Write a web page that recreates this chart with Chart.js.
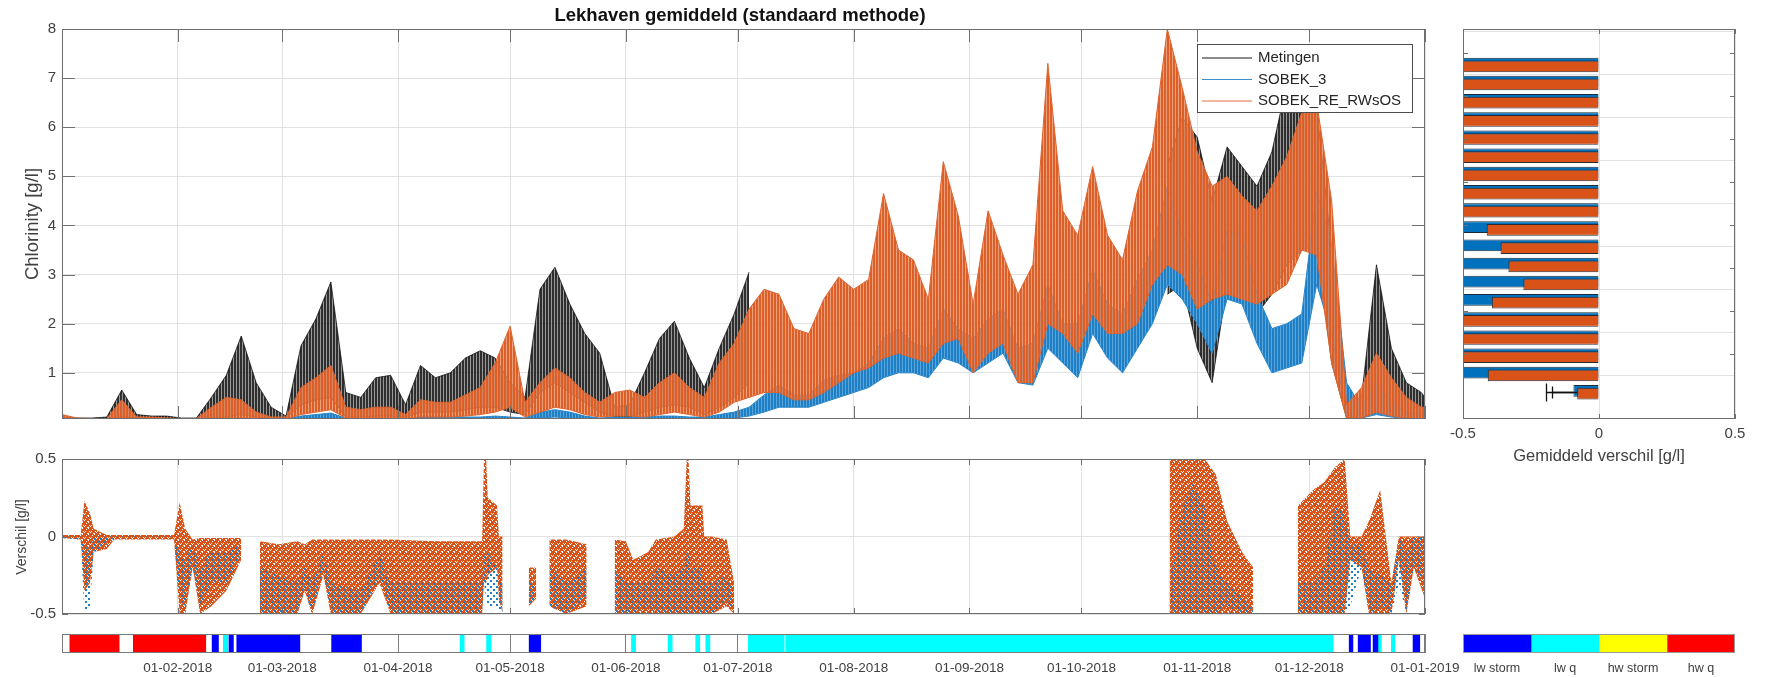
<!DOCTYPE html>
<html lang="nl">
<head>
<meta charset="utf-8">
<title>Lekhaven gemiddeld (standaard methode)</title>
<script src="https://cdn.jsdelivr.net/npm/chart.js@4.4.1/dist/chart.umd.min.js"></script>
<style>
  html, body { margin: 0; background: #fff; }
  #wrap { position: relative; width: 1767px; height: 678px; overflow: hidden; }
  #wrap canvas { position: absolute; left: 0; top: 0; }
</style>
</head>
<body>
<div id="wrap">
  <canvas id="tijdreeksChart" width="1767" height="678"></canvas>
  <canvas id="verschilChart" width="1767" height="678"></canvas>
  <canvas id="strookChart" width="1767" height="678"></canvas>
  <canvas id="gemiddeldChart" width="1767" height="678"></canvas>
  <canvas id="klasseChart" width="1767" height="678"></canvas>
</div>
<script>
// ---- gegevens ----
const maandDagen = [0, 31, 59, 90, 120, 151, 181, 212, 243, 273, 304, 334, 365];
const maandLabels = ['01-01-2018', '01-02-2018', '01-03-2018', '01-04-2018', '01-05-2018', '01-06-2018',
  '01-07-2018', '01-08-2018', '01-09-2018', '01-10-2018', '01-11-2018', '01-12-2018', '01-01-2019'];
const chlorTicks = [1, 2, 3, 4, 5, 6, 7, 8];
const verschilTicks = [-0.5, 0, 0.5];

const reeksNamen = ['Metingen', 'SOBEK_3', 'SOBEK_RE_RWsOS'];

// dagen sinds 01-01-2018 (bovenste grafiek)
const dagen = [0, 4, 8, 12, 16, 20, 24, 28, 32, 36, 40, 44, 48, 52, 56, 60,
  64, 68, 72, 76, 80, 84, 88, 92, 96, 100, 104, 108, 112, 116, 120, 124,
  128, 132, 136, 140, 144, 148, 152, 156, 160, 164, 168, 172, 176, 180, 184, 188,
  192, 196, 200, 204, 208, 212, 216, 220, 224, 228, 232, 236, 240, 244, 248, 252,
  256, 260, 264, 268, 272, 276, 280, 284, 288, 292, 296, 300, 304, 308, 312, 316,
  320, 324, 328, 332, 336, 340, 344, 348, 352, 356, 360, 364, 365];

// boven- en onderkant van het getijdesignaal [g/l]
const metingenHoog = [0.1, 0.08, 0.08, 0.1, 0.65, 0.15, 0.12, 0.12, 0.08, 0.08, 0.5, 0.95, 1.75, 0.8, 0.3, 0.12,
  1.55, 2.1, 2.85, 0.6, 0.5, 0.9, 0.95, 0.35, 1.15, 0.9, 1.0, 1.3, 1.45, 1.3, 0.8, 0.5,
  2.7, 3.15, 2.4, 1.8, 1.4, 0.3, 0.35, 1.0, 1.7, 2.05, 1.3, 0.7, 1.5, 2.2, 3.05, null,
  null, null, null, null, null, null, null, null, null, null, null, null, null, null, null, null,
  null, null, null, null, null, null, null, null, null, null, 5.2, 6.2, 5.8, 4.5, 5.6, 5.2,
  4.8, 5.5, 6.9, 6.6, 6.4, 3.5, 0.4, 0.5, 3.2, 1.5, 0.8, 0.6, 0.5];
const metingenLaag = [0.07, 0.07, 0.07, 0.07, 0.1, 0.08, 0.08, 0.07, 0.07, 0.07, 0.08, 0.1, 0.15, 0.1, 0.08, 0.08,
  0.35, 0.45, 0.5, 0.1, 0.1, 0.12, 0.12, 0.1, 0.2, 0.2, 0.2, 0.25, 0.3, 0.3, 0.2, 0.15,
  0.6, 0.8, 0.6, 0.4, 0.2, 0.1, 0.1, 0.2, 0.3, 0.35, 0.3, 0.15, 0.3, 0.5, 0.8, null,
  null, null, null, null, null, null, null, null, null, null, null, null, null, null, null, null,
  null, null, null, null, null, null, null, null, null, null, 2.6, 2.8, 1.5, 0.8, 2.8, 2.6,
  2.2, 2.6, 3.2, 3.5, 3.6, 1.2, 0.08, 0.08, 0.5, 0.2, 0.08, 0.07, 0.07];
const sobek3Hoog = [0.08, 0.07, 0.07, 0.07, 0.07, 0.07, 0.07, 0.07, 0.07, 0.07, 0.07, 0.08, 0.08, 0.07, 0.07, 0.07,
  0.12, 0.15, 0.18, 0.08, 0.07, 0.08, 0.08, 0.07, 0.1, 0.1, 0.1, 0.1, 0.1, 0.12, 0.1, 0.08,
  0.2, 0.25, 0.2, 0.12, 0.08, 0.1, 0.1, 0.1, 0.12, 0.12, 0.1, 0.1, 0.15, 0.2, 0.3, 0.55,
  0.75, 0.55, 0.55, 0.85, 0.95, 1.0, 1.2, 1.7, 1.9, 1.6, 1.5, 2.3, 1.9, 1.7, 2.1, 2.3,
  1.5, 1.6, 2.8, 2.0, 2.0, 3.1, 2.4, 2.2, 2.9, 3.5, 4.8, 3.8, 3.2, 2.4, 3.9, 3.8,
  2.6, 1.9, 2.0, 2.2, 4.7, 3.6, 0.8, 0.3, 0.75, 0.4, 0.2, 0.15, 0.15];
const sobek3Laag = [0.06, 0.06, 0.06, 0.06, 0.06, 0.06, 0.06, 0.06, 0.06, 0.06, 0.06, 0.06, 0.06, 0.06, 0.06, 0.06,
  0.07, 0.08, 0.08, 0.06, 0.06, 0.06, 0.06, 0.06, 0.06, 0.06, 0.06, 0.06, 0.06, 0.06, 0.06, 0.06,
  0.08, 0.1, 0.08, 0.07, 0.06, 0.06, 0.06, 0.06, 0.06, 0.06, 0.06, 0.06, 0.07, 0.08, 0.12, 0.2,
  0.3, 0.3, 0.3, 0.4, 0.5, 0.6, 0.7, 0.9, 1.0, 1.0, 0.9, 1.3, 1.2, 1.0, 1.2, 1.4,
  0.8, 0.75, 1.5, 1.2, 0.9, 1.8, 1.3, 1.0, 1.5, 2.0, 2.8, 2.5, 2.0, 1.4, 2.5, 2.4,
  1.6, 1.0, 1.1, 1.2, 2.8, 1.8, 0.15, 0.08, 0.15, 0.1, 0.07, 0.06, 0.06];
const sobekReHoog = [0.15, 0.08, 0.07, 0.07, 0.45, 0.1, 0.1, 0.08, 0.07, 0.07, 0.3, 0.5, 0.45, 0.2, 0.1, 0.1,
  0.7, 0.9, 1.15, 0.3, 0.25, 0.3, 0.3, 0.15, 0.45, 0.4, 0.4, 0.55, 0.7, 1.2, 1.95, 0.4,
  0.8, 1.1, 0.9, 0.6, 0.4, 0.6, 0.65, 0.5, 0.8, 1.0, 0.7, 0.5, 1.2, 1.6, 2.3, 2.7,
  2.6, 1.9, 1.8, 2.5, 2.95, 2.7, 2.9, 4.65, 3.5, 3.3, 2.5, 5.3, 4.2, 2.4, 4.3, 3.4,
  2.6, 3.2, 7.3, 4.3, 3.8, 5.2, 3.8, 3.3, 4.7, 5.6, 8.0, 6.8, 5.5, 4.8, 5.0, 4.6,
  4.3, 4.8, 5.4, 6.3, 6.5, 4.5, 0.35, 0.7, 1.4, 0.9, 0.5, 0.3, 0.3];
const sobekReLaag = [0.06, 0.06, 0.06, 0.06, 0.08, 0.06, 0.06, 0.06, 0.06, 0.06, 0.06, 0.07, 0.08, 0.07, 0.06, 0.06,
  0.15, 0.2, 0.25, 0.08, 0.07, 0.08, 0.08, 0.07, 0.1, 0.1, 0.1, 0.12, 0.15, 0.2, 0.3, 0.1,
  0.2, 0.3, 0.25, 0.15, 0.1, 0.12, 0.12, 0.1, 0.15, 0.2, 0.15, 0.1, 0.2, 0.4, 0.5, 0.6,
  0.6, 0.45, 0.45, 0.6, 0.8, 1.0, 1.1, 1.3, 1.4, 1.3, 1.2, 1.6, 1.7, 1.0, 1.4, 1.6,
  0.8, 0.8, 2.0, 1.8, 1.4, 2.2, 1.8, 1.8, 2.0, 2.8, 3.2, 3.0, 2.3, 2.5, 2.6, 2.5,
  2.4, 2.6, 2.8, 3.5, 3.4, 1.2, 0.07, 0.08, 0.2, 0.12, 0.08, 0.07, 0.07];

// verschil model - meting [g/l]: bereik van de punten per moment
const verschilDagen = [0, 5, 6, 7.5, 8.5, 12, 14, 30, 31.5, 33, 35, 37, 40, 44, 48, 48.5,
  53, 58, 63, 65, 67, 70, 72, 80, 85, 88, 100, 112.5, 113, 113.6, 114, 116.5,
  117, 118, 119, 125, 127, 128, 130.5, 135, 140.5, 141, 148, 151, 153, 157,
  159, 164, 166.5, 167.3, 167.8, 168.3, 171.5, 172, 174, 178, 180, 181, 296.6, 300, 303, 306,
  309, 312, 316, 319, 320, 331, 335, 338, 341, 343.5, 345, 348, 350, 353, 356, 358,
  360, 362, 365];
const reMin = [-0.01, -0.02, -0.35, -0.3, -0.1, -0.08, -0.02, -0.02, -0.5, -0.5, -0.2, -0.5, -0.45, -0.35, -0.15, null,
  -0.5, -0.5, -0.5, -0.35, -0.5, -0.25, -0.5, -0.5, -0.3, -0.5, -0.5, -0.5, -0.3, -0.3, -0.25, -0.2,
  -0.4, -0.5, null, -0.45, -0.4, null, -0.45, -0.5, -0.45, null, -0.5, -0.5, -0.5, -0.5,
  -0.5, -0.5, -0.5, -0.5, -0.5, -0.5, -0.5, -0.5, -0.5, -0.45, -0.5, null, -0.5, -0.5, -0.5, -0.5,
  -0.5, -0.5, -0.5, -0.5, null, -0.5, -0.5, -0.5, -0.5, -0.5, -0.15, -0.2, -0.5, -0.5, -0.5, -0.15,
  -0.5, -0.2, -0.4];
const reMax = [0.01, 0.01, 0.23, 0.15, 0.05, 0.01, 0.01, 0.01, 0.22, 0.05, -0.02, -0.01, -0.01, -0.01, -0.01, null,
  -0.03, -0.05, -0.03, -0.05, -0.02, -0.02, -0.02, -0.02, -0.02, -0.02, -0.03, -0.03, 0.5, 0.5, 0.25, 0.2,
  0.0, 0.0, null, -0.2, -0.2, null, -0.02, -0.02, -0.05, null, -0.02, -0.03, -0.15, -0.1,
  -0.02, 0.0, 0.05, 0.5, 0.5, 0.2, 0.2, 0.0, 0.0, -0.02, -0.3, null, 0.5, 0.5, 0.5, 0.5,
  0.4, 0.1, -0.1, -0.2, null, 0.2, 0.3, 0.35, 0.45, 0.5, 0.0, 0.0, 0.1, 0.3, -0.3, 0.0,
  0.0, 0.0, 0.0];
const s3Min = [-0.01, -0.02, -0.5, -0.45, -0.1, -0.05, -0.01, -0.01, -0.4, -0.45, -0.2, -0.45, -0.3, -0.3, -0.1, null,
  -0.5, -0.5, -0.5, -0.35, -0.5, -0.2, -0.5, -0.5, -0.25, -0.5, -0.5, -0.5, -0.3, -0.4, -0.45, -0.45,
  -0.5, -0.5, null, -0.45, -0.4, null, -0.45, -0.5, -0.4, null, -0.5, -0.5, -0.5, -0.45,
  -0.5, -0.5, -0.5, -0.5, -0.5, -0.5, -0.5, -0.5, -0.5, -0.4, -0.5, null, -0.5, -0.5, -0.5, -0.5,
  -0.5, -0.45, -0.5, -0.5, null, -0.5, -0.5, -0.5, -0.5, -0.5, -0.45, -0.2, -0.5, -0.45, -0.5, -0.3,
  -0.5, -0.2, -0.3];
const s3Max = [0.0, 0.0, -0.05, -0.1, 0.0, 0.0, 0.0, 0.0, -0.1, -0.15, -0.05, -0.2, -0.1, -0.1, -0.05, null,
  -0.2, -0.25, -0.3, -0.2, -0.3, -0.1, -0.3, -0.35, -0.1, -0.3, -0.3, -0.3, -0.1, -0.1, -0.1, -0.2,
  -0.3, -0.3, null, -0.3, -0.3, null, -0.2, -0.3, -0.2, null, -0.2, -0.3, -0.3, -0.3,
  -0.2, -0.25, -0.2, -0.1, -0.1, -0.2, -0.2, -0.3, -0.3, -0.25, -0.35, null, -0.3, 0.2, 0.35, 0.2,
  -0.2, -0.3, -0.4, -0.45, null, -0.3, -0.3, -0.2, 0.2, 0.15, -0.05, -0.05, -0.2, -0.25, -0.3, 0.0,
  -0.1, 0.0, 0.0];

// gemiddeld verschil per klasse (rij 19 = totaal)
const rijen = [1, 2, 3, 4, 5, 6, 7, 8, 9, 10, 11, 12, 13, 14, 15, 16, 17, 18, 19];
const gemSobek3 = [-0.5, -0.5, -0.5, -0.5, -0.5, -0.5, -0.5, -0.5, -0.5, -0.5,
  -0.5, -0.5, -0.5, -0.5, -0.5, -0.5, -0.5, -0.5, -0.094];
const gemSobekRe = [-0.5, -0.5, -0.5, -0.5, -0.5, -0.5, -0.5, -0.5, -0.5, -0.413,
  -0.362, -0.333, -0.278, -0.394, -0.5, -0.5, -0.5, -0.409, -0.08];
const foutSobek3 = [null, null, null, null, null, null, null, null, null, null,
  null, null, null, null, null, null, null, null, -0.196];
const foutSobekRe = [null, null, null, null, null, null, null, null, null, null,
  null, null, null, null, null, null, null, null, -0.174];

// getij-/afvoerklassen in de tijd
const klasseNamen = ['lw storm', 'lw q', 'hw storm', 'hw q'];
const klasseBreedte = [1, 1, 1, 1];
const segStart = [2.1, 19.1, 40.2, 43.2, 44.7, 46.8, 72.2, 106.6, 113.7, 125.1, 152.5, 162.3,
  169.7, 172.4, 183.8, 193.8, 344.7, 347.1, 351.1, 352.4, 356, 361.8];
const segEinde = [15.3, 38.5, 41.9, 44.4, 45.9, 63.7, 80.2, 107.7, 114.9, 128.2, 153.6, 163.4,
  170.8, 173.5, 193.4, 340.4, 345.7, 350.4, 352.4, 353.3, 356.9, 363.6];
const segKlasse = [3, 3, 0, 1, 0, 0, 0, 1, 1, 0, 1, 1,
  1, 1, 1, 1, 0, 0, 0, 1, 1, 0];

// ---- stijl ----
Chart.defaults.font.family = "'Liberation Sans', Arial, sans-serif";
Chart.defaults.color = '#404040';
Chart.defaults.animation = false;
Chart.defaults.plugins.legend.display = false;
Chart.defaults.plugins.tooltip.enabled = false;

const klasseKleuren = ['#0000FF', '#00FFFF', '#FFFF00', '#FF0000'];
const rasterKleur = '#e2e2e2';

function punten(xs, ys) {
  return xs.map((x, i) => ({ x: x, y: ys[i] }));
}

// patroon met losse stippen (puntenwolk)
function stippels(kleur, cel, stippen, vol) {
  const c = document.createElement('canvas');
  c.width = cel; c.height = cel;
  const g = c.getContext('2d');
  g.fillStyle = kleur;
  if (vol) g.fillRect(0, 0, cel, cel);
  stippen.forEach(([x, y, b, h]) => {
    if (vol) g.clearRect(x, y, b, h); else g.fillRect(x, y, b, h);
  });
  return g.createPattern(c, 'repeat');
}

// verticale strepen: dicht getijdesignaal
function strepen(kleuren) {
  const c = document.createElement('canvas');
  c.width = kleuren.length; c.height = 1;
  const g = c.getContext('2d');
  kleuren.forEach((k, i) => { g.fillStyle = k; g.fillRect(i, 0, 1, 1); });
  return g.createPattern(c, 'repeat');
}

function tekst(ctx, t) {
  ctx.save();
  ctx.font = t.font;
  ctx.fillStyle = t.kleur || '#262626';
  ctx.textAlign = 'center';
  ctx.textBaseline = 'middle';
  ctx.translate(t.x, t.y);
  if (t.draai) ctx.rotate(-Math.PI / 2);
  ctx.fillText(t.tekst, 0, 0);
  ctx.restore();
}

// kader met naar binnen wijzende tickstreepjes en losse teksten
function kader(s) {
  return {
    id: 'kader',
    afterDraw(chart) {
      const { ctx, chartArea: a } = chart;
      ctx.save();
      ctx.strokeStyle = '#707070';
      ctx.lineWidth = 1;
      ctx.beginPath();
      if (s.xTick) {
        const sx = chart.scales[s.xAs || 'x'];
        sx.ticks.forEach(t => {
          const px = Math.round(sx.getPixelForValue(t.value)) + 0.5;
          ctx.moveTo(px, a.top); ctx.lineTo(px, a.top + s.xTick);
          ctx.moveTo(px, a.bottom); ctx.lineTo(px, a.bottom - s.xTick);
        });
      }
      if (s.yTick) {
        const sy = chart.scales[s.yAs || 'y'];
        sy.ticks.forEach(t => {
          const py = Math.round(sy.getPixelForValue(t.value)) + 0.5;
          ctx.moveTo(a.left, py); ctx.lineTo(a.left + s.yTick, py);
          ctx.moveTo(a.right, py); ctx.lineTo(a.right - s.yTick, py);
        });
      }
      ctx.stroke();
      ctx.strokeStyle = s.randKleur || '#6e6e6e';
      ctx.strokeRect(Math.round(a.left) + 0.5, Math.round(a.top) + 0.5,
        Math.round(a.width) - 1, Math.round(a.height) - 1);
      (s.teksten || []).forEach(t => tekst(ctx, t));
      ctx.restore();
    }
  };
}

// Lijngrafiek chloriniteit
const tijdLegenda = {
  id: 'tijdLegenda',
  afterDraw(chart) {
    const ctx = chart.ctx;
    const kleuren = ['#1a1a1a', '#3b8fd0', '#e0703f'];
    const x = 1197, y = 44, b = 215, h = 68;
    ctx.save();
    ctx.fillStyle = '#fff';
    ctx.fillRect(x, y, b, h);
    ctx.strokeStyle = '#4d4d4d';
    ctx.lineWidth = 1;
    ctx.strokeRect(x + 0.5, y + 0.5, b, h);
    ctx.font = "15px 'Liberation Sans', Arial, sans-serif";
    ctx.textBaseline = 'middle';
    reeksNamen.forEach((naam, i) => {
      const ry = y + 14 + i * 21.5;
      ctx.strokeStyle = kleuren[i];
      ctx.lineWidth = 1.2;
      ctx.beginPath();
      ctx.moveTo(x + 5, ry); ctx.lineTo(x + 55, ry);
      ctx.stroke();
      ctx.fillStyle = '#262626';
      ctx.fillText(naam, x + 61, ry);
    });
    ctx.restore();
  }
};

function band(laag, hoog, vulling, rand, volgorde, naam) {
  return [
    { label: naam + ' min', data: punten(dagen, laag), borderColor: rand, borderWidth: 1,
      pointRadius: 0, fill: false, order: volgorde, spanGaps: false },
    { label: naam, data: punten(dagen, hoog), borderColor: rand, borderWidth: 1,
      backgroundColor: vulling, pointRadius: 0, fill: '-1', order: volgorde, spanGaps: false }
  ];
}

const tijdCtx = document.getElementById('tijdreeksChart').getContext('2d');
new Chart(tijdCtx, {
  type: 'line',
  data: {
    datasets: [
      ...band(metingenLaag, metingenHoog,
        strepen(['rgba(10,10,10,0.85)', 'rgba(10,10,10,0.85)', 'rgba(70,70,70,0.55)']), 'rgba(0,0,0,0.7)', 3, reeksNamen[0]),
      ...band(sobek3Laag, sobek3Hoog,
        strepen(['#1f7fc4', '#1f7fc4', '#5aa6dc']), '#2a86c8', 2, reeksNamen[1]),
      ...band(sobekReLaag, sobekReHoog,
        strepen(['#dc5f28', '#dc5f28', 'rgba(232,128,82,0.75)']), '#de6430', 1, reeksNamen[2])
    ]
  },
  options: {
    responsive: false,
    layout: { padding: { left: 0, top: 29, right: 342, bottom: 259 } },
    elements: { line: { tension: 0 } },
    scales: {
      x: {
        type: 'linear', min: 0, max: 365,
        afterBuildTicks: s => { s.ticks = maandDagen.map(v => ({ value: v })); },
        afterFit: s => { s.height = 0; },
        ticks: { display: false },
        grid: { color: rasterKleur, drawTicks: false },
        border: { display: false }
      },
      y: {
        min: 0.06, max: 8,
        afterBuildTicks: s => { s.ticks = chlorTicks.map(v => ({ value: v })); },
        afterFit: s => { s.width = 62; },
        ticks: { font: { size: 15 }, padding: 6 },
        grid: { color: rasterKleur, drawTicks: false },
        border: { display: false }
      }
    }
  },
  plugins: [kader({
    xTick: 13, yTick: 13,
    teksten: [
      { tekst: 'Lekhaven gemiddeld (standaard methode)', x: 740, y: 16,
        font: "bold 18.5px 'Liberation Sans', Arial, sans-serif", kleur: '#111' },
      { tekst: 'Chlorinity [g/l]', x: 33, y: 224, draai: true,
        font: "18.5px 'Liberation Sans', Arial, sans-serif", kleur: '#404040' }
    ]
  }), tijdLegenda]
});

// Verschil-puntenwolk
const verschilCtx = document.getElementById('verschilChart').getContext('2d');
new Chart(verschilCtx, {
  type: 'line',
  data: {
    datasets: [
      { label: 'SOBEK_RE_RWsOS min', data: punten(verschilDagen, reMin), borderWidth: 0, pointRadius: 0,
        fill: false, order: 2, spanGaps: false },
      { label: 'SOBEK_RE_RWsOS', data: punten(verschilDagen, reMax), borderWidth: 0, pointRadius: 0,
        backgroundColor: stippels('#d95319', 6, [[2, 1, 1, 1], [5, 3, 1, 1], [0, 4, 1, 1], [3, 5, 2, 1], [4, 0, 1, 1], [1, 3, 1, 1]], true),
        fill: '-1', order: 2, spanGaps: false },
      { label: 'SOBEK_3 min', data: punten(verschilDagen, s3Min), borderWidth: 0, pointRadius: 0,
        fill: false, order: 1, spanGaps: false },
      { label: 'SOBEK_3', data: punten(verschilDagen, s3Max), borderWidth: 0, pointRadius: 0,
        backgroundColor: stippels('#1f7fc6', 6, [[1, 1, 2, 2], [4, 4, 2, 2]], false),
        fill: '-1', order: 1, spanGaps: false }
    ]
  },
  options: {
    responsive: false,
    layout: { padding: { left: 0, top: 459, right: 342, bottom: 64 } },
    elements: { line: { tension: 0 } },
    scales: {
      x: {
        type: 'linear', min: 0, max: 365,
        afterBuildTicks: s => { s.ticks = maandDagen.map(v => ({ value: v })); },
        afterFit: s => { s.height = 0; },
        ticks: { display: false },
        grid: { color: rasterKleur, drawTicks: false },
        border: { display: false }
      },
      y: {
        min: -0.5, max: 0.5,
        afterBuildTicks: s => { s.ticks = verschilTicks.map(v => ({ value: v })); },
        afterFit: s => { s.width = 62; },
        ticks: { font: { size: 15 }, padding: 6 },
        grid: { color: rasterKleur, drawTicks: false },
        border: { display: false }
      }
    }
  },
  plugins: [kader({
    xTick: 6, yTick: 6,
    teksten: [
      { tekst: 'Verschil [g/l]', x: 22, y: 537, draai: true,
        font: "14px 'Liberation Sans', Arial, sans-serif", kleur: '#404040' }
    ]
  })]
});

// Klassenstrook onder de tijdas
const strookCtx = document.getElementById('strookChart').getContext('2d');
new Chart(strookCtx, {
  type: 'bar',
  data: {
    labels: [''],
    datasets: segStart.map((s, i) => ({
      data: [[s, segEinde[i]]],
      backgroundColor: klasseKleuren[segKlasse[i]],
      borderWidth: 0, barPercentage: 1, categoryPercentage: 1, grouped: false
    }))
  },
  options: {
    responsive: false,
    indexAxis: 'y',
    layout: { padding: { left: 62, top: 634, right: 342, bottom: 0 } },
    scales: {
      x: {
        type: 'linear', min: 0, max: 365, z: 1,
        afterBuildTicks: s => { s.ticks = maandDagen.slice(1).map(v => ({ value: v })); },
        afterFit: s => { s.height = 25; },
        ticks: {
          font: { size: 13.5 }, padding: 7, autoSkip: false, maxRotation: 0,
          callback: v => maandLabels[maandDagen.indexOf(v)]
        },
        grid: { color: 'rgba(40,40,40,0.6)', drawTicks: false },
        border: { display: false }
      },
      y: { display: false }
    }
  },
  plugins: [kader({ randKleur: '#7a7a7a' })]
});

// Gemiddeld verschil per klasse
// SOBEK_3 ligt iets hoger in de rij, SOBEK_RE_RWsOS wordt erbovenop getekend
const oranjeBovenop = {
  id: 'oranjeBovenop',
  beforeDatasetDraw(chart, args) {
    if (args.index === 1 && !chart.$oranjeNu) return false;
  },
  afterDatasetsDraw(chart) {
    chart.$oranjeNu = true;
    chart.getDatasetMeta(1).controller.draw();
    chart.$oranjeNu = false;
  }
};

const foutbalken = {
  id: 'foutbalken',
  afterDatasetsDraw(chart) {
    const { ctx } = chart;
    const sx = chart.scales.x, sy = chart.scales.y;
    ctx.save();
    ctx.strokeStyle = '#111';
    ctx.lineWidth = 1.3;
    rijen.forEach((r, i) => {
      const py = Math.round(sy.getPixelForValue(r)) + 0.5;
      [[gemSobek3[i], foutSobek3[i], 9], [gemSobekRe[i], foutSobekRe[i], 6]].forEach(([v, f, kap]) => {
        if (f === null) return;
        const x1 = sx.getPixelForValue(v), x2 = Math.round(sx.getPixelForValue(f)) + 0.5;
        ctx.beginPath();
        ctx.moveTo(x1, py); ctx.lineTo(x2, py);
        ctx.moveTo(x2, py - kap); ctx.lineTo(x2, py + kap);
        ctx.stroke();
      });
    });
    ctx.restore();
  }
};

const gemCtx = document.getElementById('gemiddeldChart').getContext('2d');
new Chart(gemCtx, {
  type: 'bar',
  data: {
    datasets: [
      { label: reeksNamen[1], data: punten(gemSobek3, rijen),
        backgroundColor: '#0072BD', borderColor: '#1c2b3c', borderWidth: 1,
        categoryPercentage: 0.3, barPercentage: 4.3 },
      { label: reeksNamen[2], data: punten(gemSobekRe, rijen),
        backgroundColor: '#D95319', borderColor: '#2a2a33', borderWidth: 1,
        categoryPercentage: 0.3, barPercentage: 4.3 }
    ]
  },
  options: {
    responsive: false,
    indexAxis: 'y',
    layout: { padding: { left: 1463, top: 29, right: 32, bottom: 229 } },
    scales: {
      x: {
        type: 'linear', min: -0.5, max: 0.5,
        afterBuildTicks: s => { s.ticks = verschilTicks.map(v => ({ value: v })); },
        afterFit: s => { s.height = 30; },
        ticks: { font: { size: 15 }, padding: 6 },
        grid: { color: rasterKleur, drawTicks: false },
        border: { display: false }
      },
      y: { type: 'linear', min: 0, max: 19.5, reverse: true, display: false },
      yg: {
        type: 'linear', position: 'right', min: 0.06, max: 8,
        afterBuildTicks: s => { s.ticks = chlorTicks.map(v => ({ value: v })); },
        afterFit: s => { s.width = 0; },
        ticks: { display: false },
        grid: { color: rasterKleur, drawTicks: false },
        border: { display: false }
      }
    }
  },
  plugins: [oranjeBovenop, foutbalken, kader({
    xTick: 5, yTick: 5, yAs: 'yg',
    teksten: [
      { tekst: 'Gemiddeld verschil [g/l]', x: 1599, y: 456,
        font: "16.5px 'Liberation Sans', Arial, sans-serif", kleur: '#404040' }
    ]
  })]
});

// Legenda van de klassen
const klasseCtx = document.getElementById('klasseChart').getContext('2d');
new Chart(klasseCtx, {
  type: 'bar',
  data: {
    labels: [''],
    datasets: klasseNamen.map((n, i) => ({
      label: n, data: [klasseBreedte[i]], backgroundColor: klasseKleuren[i],
      borderWidth: 0, barPercentage: 1, categoryPercentage: 1
    }))
  },
  options: {
    responsive: false,
    indexAxis: 'y',
    layout: { padding: { left: 1463, top: 634, right: 32, bottom: 0 } },
    scales: {
      x: {
        type: 'linear', min: 0, max: 4, stacked: true,
        afterBuildTicks: s => { s.ticks = [0.5, 1.5, 2.5, 3.5].map(v => ({ value: v })); },
        afterFit: s => { s.height = 25; },
        ticks: { font: { size: 12.5 }, padding: 8, callback: v => klasseNamen[Math.floor(v)] },
        grid: { display: false, drawTicks: false },
        border: { display: false }
      },
      y: { display: false, stacked: true }
    }
  },
  plugins: [kader({ randKleur: '#9a9a9a' })]
});
</script>
</body>
</html>
